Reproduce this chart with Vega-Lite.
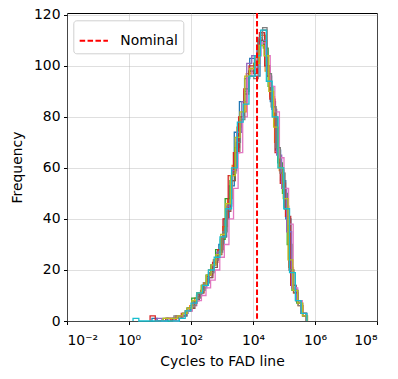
{
"$schema":"https://vega.github.io/schema/vega-lite/v6.json",
"width":310,"height":308,
"autosize":{"type":"none"},
"padding":{"left":67,"top":13,"right":21,"bottom":58},
"config":{
"font":"DejaVu Sans",
"view":{"stroke":"black","strokeWidth":1},
"axis":{"labelFont":"DejaVu Sans","labelFontSize":13.9,"titleFont":"DejaVu Sans","titleFontSize":13.9,"titleFontWeight":"normal","labelColor":"black","titleColor":"black","tickColor":"black","tickSize":3.5,"tickWidth":1,"domain":false,"gridColor":"#b0b0b0","gridOpacity":0.5,"gridWidth":0.8}
},
"layer":[
{"data":{"values":[
{"s":"r01","k":-1,"x":0.74,"c":0},{"s":"r01","k":0,"x":0.74,"c":1},{"s":"r01","k":1,"x":0.906,"c":0},{"s":"r01","k":2,"x":1.072,"c":0},{"s":"r01","k":3,"x":1.238,"c":1},{"s":"r01","k":4,"x":1.404,"c":1},{"s":"r01","k":5,"x":1.57,"c":2},{"s":"r01","k":6,"x":1.736,"c":3},{"s":"r01","k":7,"x":1.902,"c":5},{"s":"r01","k":8,"x":2.068,"c":8},{"s":"r01","k":9,"x":2.234,"c":11},{"s":"r01","k":10,"x":2.4,"c":15},{"s":"r01","k":11,"x":2.566,"c":19},{"s":"r01","k":12,"x":2.732,"c":24},{"s":"r01","k":13,"x":2.898,"c":30},{"s":"r01","k":14,"x":3.064,"c":40},{"s":"r01","k":15,"x":3.23,"c":53},{"s":"r01","k":16,"x":3.396,"c":74},{"s":"r01","k":17,"x":3.562,"c":86},{"s":"r01","k":18,"x":3.728,"c":95},{"s":"r01","k":19,"x":3.894,"c":103},{"s":"r01","k":20,"x":4.06,"c":96},{"s":"r01","k":21,"x":4.226,"c":112},{"s":"r01","k":22,"x":4.392,"c":100},{"s":"r01","k":23,"x":4.558,"c":86},{"s":"r01","k":24,"x":4.724,"c":67},{"s":"r01","k":25,"x":4.89,"c":55},{"s":"r01","k":26,"x":5.056,"c":40},{"s":"r01","k":27,"x":5.222,"c":14},{"s":"r01","k":28,"x":5.388,"c":8},{"s":"r01","k":29,"x":5.554,"c":3},{"s":"r01","k":30,"x":5.72,"c":0},
{"s":"r02","k":-1,"x":1.2,"c":0},{"s":"r02","k":0,"x":1.2,"c":1},{"s":"r02","k":1,"x":1.352,"c":0},{"s":"r02","k":2,"x":1.504,"c":2},{"s":"r02","k":3,"x":1.656,"c":2},{"s":"r02","k":4,"x":1.808,"c":4},{"s":"r02","k":5,"x":1.96,"c":6},{"s":"r02","k":6,"x":2.112,"c":9},{"s":"r02","k":7,"x":2.264,"c":11},{"s":"r02","k":8,"x":2.416,"c":15},{"s":"r02","k":9,"x":2.568,"c":20},{"s":"r02","k":10,"x":2.72,"c":24},{"s":"r02","k":11,"x":2.872,"c":28},{"s":"r02","k":12,"x":3.024,"c":37},{"s":"r02","k":13,"x":3.176,"c":48},{"s":"r02","k":14,"x":3.328,"c":61},{"s":"r02","k":15,"x":3.48,"c":76},{"s":"r02","k":16,"x":3.632,"c":82},{"s":"r02","k":17,"x":3.784,"c":97},{"s":"r02","k":18,"x":3.936,"c":99},{"s":"r02","k":19,"x":4.088,"c":104},{"s":"r02","k":20,"x":4.24,"c":112},{"s":"r02","k":21,"x":4.392,"c":98},{"s":"r02","k":22,"x":4.544,"c":88},{"s":"r02","k":23,"x":4.696,"c":70},{"s":"r02","k":24,"x":4.848,"c":59},{"s":"r02","k":25,"x":5.0,"c":45},{"s":"r02","k":26,"x":5.152,"c":21},{"s":"r02","k":27,"x":5.304,"c":11},{"s":"r02","k":28,"x":5.456,"c":6},{"s":"r02","k":29,"x":5.608,"c":2},{"s":"r02","k":30,"x":5.76,"c":0},
{"s":"r03","k":-1,"x":1.1,"c":0},{"s":"r03","k":0,"x":1.1,"c":1},{"s":"r03","k":1,"x":1.254,"c":0},{"s":"r03","k":2,"x":1.408,"c":1},{"s":"r03","k":3,"x":1.562,"c":2},{"s":"r03","k":4,"x":1.716,"c":2},{"s":"r03","k":5,"x":1.87,"c":5},{"s":"r03","k":6,"x":2.024,"c":9},{"s":"r03","k":7,"x":2.178,"c":10},{"s":"r03","k":8,"x":2.332,"c":14},{"s":"r03","k":9,"x":2.486,"c":18},{"s":"r03","k":10,"x":2.64,"c":22},{"s":"r03","k":11,"x":2.794,"c":28},{"s":"r03","k":12,"x":2.948,"c":32},{"s":"r03","k":13,"x":3.102,"c":48},{"s":"r03","k":14,"x":3.256,"c":55},{"s":"r03","k":15,"x":3.41,"c":68},{"s":"r03","k":16,"x":3.564,"c":80},{"s":"r03","k":17,"x":3.718,"c":90},{"s":"r03","k":18,"x":3.872,"c":98},{"s":"r03","k":19,"x":4.026,"c":101},{"s":"r03","k":20,"x":4.18,"c":110},{"s":"r03","k":21,"x":4.334,"c":107},{"s":"r03","k":22,"x":4.488,"c":92},{"s":"r03","k":23,"x":4.642,"c":80},{"s":"r03","k":24,"x":4.796,"c":62},{"s":"r03","k":25,"x":4.95,"c":50},{"s":"r03","k":26,"x":5.104,"c":30},{"s":"r03","k":27,"x":5.258,"c":12},{"s":"r03","k":28,"x":5.412,"c":7},{"s":"r03","k":29,"x":5.566,"c":3},{"s":"r03","k":30,"x":5.72,"c":0},
{"s":"r04","k":-1,"x":0.68,"c":0},{"s":"r04","k":0,"x":0.68,"c":2},{"s":"r04","k":1,"x":0.848,"c":0},{"s":"r04","k":2,"x":1.016,"c":0},{"s":"r04","k":3,"x":1.184,"c":1},{"s":"r04","k":4,"x":1.352,"c":0},{"s":"r04","k":5,"x":1.52,"c":1},{"s":"r04","k":6,"x":1.688,"c":3},{"s":"r04","k":7,"x":1.856,"c":4},{"s":"r04","k":8,"x":2.024,"c":7},{"s":"r04","k":9,"x":2.192,"c":11},{"s":"r04","k":10,"x":2.36,"c":14},{"s":"r04","k":11,"x":2.528,"c":18},{"s":"r04","k":12,"x":2.696,"c":23},{"s":"r04","k":13,"x":2.864,"c":28},{"s":"r04","k":14,"x":3.032,"c":40},{"s":"r04","k":15,"x":3.2,"c":57},{"s":"r04","k":16,"x":3.368,"c":66},{"s":"r04","k":17,"x":3.536,"c":80},{"s":"r04","k":18,"x":3.704,"c":91},{"s":"r04","k":19,"x":3.872,"c":100},{"s":"r04","k":20,"x":4.04,"c":101},{"s":"r04","k":21,"x":4.208,"c":113},{"s":"r04","k":22,"x":4.376,"c":100},{"s":"r04","k":23,"x":4.544,"c":87},{"s":"r04","k":24,"x":4.712,"c":66},{"s":"r04","k":25,"x":4.88,"c":54},{"s":"r04","k":26,"x":5.048,"c":41},{"s":"r04","k":27,"x":5.216,"c":14},{"s":"r04","k":28,"x":5.384,"c":8},{"s":"r04","k":29,"x":5.552,"c":3},{"s":"r04","k":30,"x":5.72,"c":0},
{"s":"r05","k":-1,"x":0.9,"c":0},{"s":"r05","k":0,"x":0.9,"c":1},{"s":"r05","k":1,"x":1.061,"c":0},{"s":"r05","k":2,"x":1.222,"c":1},{"s":"r05","k":3,"x":1.383,"c":1},{"s":"r05","k":4,"x":1.544,"c":2},{"s":"r05","k":5,"x":1.705,"c":2},{"s":"r05","k":6,"x":1.866,"c":4},{"s":"r05","k":7,"x":2.027,"c":7},{"s":"r05","k":8,"x":2.188,"c":10},{"s":"r05","k":9,"x":2.349,"c":13},{"s":"r05","k":10,"x":2.51,"c":17},{"s":"r05","k":11,"x":2.671,"c":22},{"s":"r05","k":12,"x":2.832,"c":27},{"s":"r05","k":13,"x":2.993,"c":33},{"s":"r05","k":14,"x":3.154,"c":45},{"s":"r05","k":15,"x":3.315,"c":59},{"s":"r05","k":16,"x":3.476,"c":74},{"s":"r05","k":17,"x":3.637,"c":86},{"s":"r05","k":18,"x":3.798,"c":101},{"s":"r05","k":19,"x":3.959,"c":104},{"s":"r05","k":20,"x":4.12,"c":108},{"s":"r05","k":21,"x":4.281,"c":110},{"s":"r05","k":22,"x":4.442,"c":96},{"s":"r05","k":23,"x":4.603,"c":83},{"s":"r05","k":24,"x":4.764,"c":65},{"s":"r05","k":25,"x":4.925,"c":52},{"s":"r05","k":26,"x":5.086,"c":35},{"s":"r05","k":27,"x":5.247,"c":13},{"s":"r05","k":28,"x":5.408,"c":8},{"s":"r05","k":29,"x":5.569,"c":3},{"s":"r05","k":30,"x":5.73,"c":0},
{"s":"r06","k":-1,"x":1.4,"c":0},{"s":"r06","k":0,"x":1.4,"c":1},{"s":"r06","k":1,"x":1.545,"c":1},{"s":"r06","k":2,"x":1.69,"c":2},{"s":"r06","k":3,"x":1.835,"c":4},{"s":"r06","k":4,"x":1.98,"c":5},{"s":"r06","k":5,"x":2.125,"c":8},{"s":"r06","k":6,"x":2.27,"c":11},{"s":"r06","k":7,"x":2.415,"c":14},{"s":"r06","k":8,"x":2.56,"c":17},{"s":"r06","k":9,"x":2.705,"c":21},{"s":"r06","k":10,"x":2.85,"c":26},{"s":"r06","k":11,"x":2.995,"c":33},{"s":"r06","k":12,"x":3.14,"c":43},{"s":"r06","k":13,"x":3.285,"c":55},{"s":"r06","k":14,"x":3.43,"c":66},{"s":"r06","k":15,"x":3.575,"c":80},{"s":"r06","k":16,"x":3.72,"c":89},{"s":"r06","k":17,"x":3.865,"c":98},{"s":"r06","k":18,"x":4.01,"c":97},{"s":"r06","k":19,"x":4.155,"c":110},{"s":"r06","k":20,"x":4.3,"c":114},{"s":"r06","k":21,"x":4.445,"c":96},{"s":"r06","k":22,"x":4.59,"c":84},{"s":"r06","k":23,"x":4.735,"c":68},{"s":"r06","k":24,"x":4.88,"c":58},{"s":"r06","k":25,"x":5.025,"c":44},{"s":"r06","k":26,"x":5.17,"c":20},{"s":"r06","k":27,"x":5.315,"c":11},{"s":"r06","k":28,"x":5.46,"c":7},{"s":"r06","k":29,"x":5.605,"c":2},{"s":"r06","k":30,"x":5.75,"c":0},
{"s":"r07","k":-1,"x":1.3,"c":0},{"s":"r07","k":0,"x":1.3,"c":1},{"s":"r07","k":1,"x":1.448,"c":0},{"s":"r07","k":2,"x":1.596,"c":1},{"s":"r07","k":3,"x":1.744,"c":3},{"s":"r07","k":4,"x":1.892,"c":4},{"s":"r07","k":5,"x":2.04,"c":6},{"s":"r07","k":6,"x":2.188,"c":8},{"s":"r07","k":7,"x":2.336,"c":10},{"s":"r07","k":8,"x":2.484,"c":13},{"s":"r07","k":9,"x":2.632,"c":16},{"s":"r07","k":10,"x":2.78,"c":20},{"s":"r07","k":11,"x":2.928,"c":25},{"s":"r07","k":12,"x":3.076,"c":30},{"s":"r07","k":13,"x":3.224,"c":40},{"s":"r07","k":14,"x":3.372,"c":52},{"s":"r07","k":15,"x":3.52,"c":66},{"s":"r07","k":16,"x":3.668,"c":80},{"s":"r07","k":17,"x":3.816,"c":96},{"s":"r07","k":18,"x":3.964,"c":99},{"s":"r07","k":19,"x":4.112,"c":104},{"s":"r07","k":20,"x":4.26,"c":109},{"s":"r07","k":21,"x":4.408,"c":104},{"s":"r07","k":22,"x":4.556,"c":92},{"s":"r07","k":23,"x":4.704,"c":82},{"s":"r07","k":24,"x":4.852,"c":64},{"s":"r07","k":25,"x":5.0,"c":52},{"s":"r07","k":26,"x":5.148,"c":38},{"s":"r07","k":27,"x":5.296,"c":13},{"s":"r07","k":28,"x":5.444,"c":8},{"s":"r07","k":29,"x":5.592,"c":3},{"s":"r07","k":30,"x":5.74,"c":0},
{"s":"r08","k":-1,"x":1.45,"c":0},{"s":"r08","k":0,"x":1.45,"c":2},{"s":"r08","k":1,"x":1.593,"c":1},{"s":"r08","k":2,"x":1.736,"c":3},{"s":"r08","k":3,"x":1.879,"c":5},{"s":"r08","k":4,"x":2.022,"c":6},{"s":"r08","k":5,"x":2.165,"c":9},{"s":"r08","k":6,"x":2.308,"c":12},{"s":"r08","k":7,"x":2.451,"c":15},{"s":"r08","k":8,"x":2.594,"c":19},{"s":"r08","k":9,"x":2.737,"c":24},{"s":"r08","k":10,"x":2.88,"c":27},{"s":"r08","k":11,"x":3.023,"c":35},{"s":"r08","k":12,"x":3.166,"c":46},{"s":"r08","k":13,"x":3.309,"c":58},{"s":"r08","k":14,"x":3.452,"c":70},{"s":"r08","k":15,"x":3.595,"c":79},{"s":"r08","k":16,"x":3.738,"c":91},{"s":"r08","k":17,"x":3.881,"c":96},{"s":"r08","k":18,"x":4.024,"c":95},{"s":"r08","k":19,"x":4.167,"c":111},{"s":"r08","k":20,"x":4.31,"c":115},{"s":"r08","k":21,"x":4.453,"c":97},{"s":"r08","k":22,"x":4.596,"c":84},{"s":"r08","k":23,"x":4.739,"c":68},{"s":"r08","k":24,"x":4.882,"c":58},{"s":"r08","k":25,"x":5.025,"c":44},{"s":"r08","k":26,"x":5.168,"c":20},{"s":"r08","k":27,"x":5.311,"c":12},{"s":"r08","k":28,"x":5.454,"c":6},{"s":"r08","k":29,"x":5.597,"c":2},{"s":"r08","k":30,"x":5.74,"c":0},
{"s":"r09","k":-1,"x":1.1,"c":0},{"s":"r09","k":0,"x":1.1,"c":1},{"s":"r09","k":1,"x":1.255,"c":1},{"s":"r09","k":2,"x":1.41,"c":1},{"s":"r09","k":3,"x":1.565,"c":2},{"s":"r09","k":4,"x":1.72,"c":3},{"s":"r09","k":5,"x":1.875,"c":5},{"s":"r09","k":6,"x":2.03,"c":8},{"s":"r09","k":7,"x":2.185,"c":11},{"s":"r09","k":8,"x":2.34,"c":14},{"s":"r09","k":9,"x":2.495,"c":18},{"s":"r09","k":10,"x":2.65,"c":22},{"s":"r09","k":11,"x":2.805,"c":26},{"s":"r09","k":12,"x":2.96,"c":34},{"s":"r09","k":13,"x":3.115,"c":46},{"s":"r09","k":14,"x":3.27,"c":57},{"s":"r09","k":15,"x":3.425,"c":72},{"s":"r09","k":16,"x":3.58,"c":82},{"s":"r09","k":17,"x":3.735,"c":96},{"s":"r09","k":18,"x":3.89,"c":99},{"s":"r09","k":19,"x":4.045,"c":101},{"s":"r09","k":20,"x":4.2,"c":108},{"s":"r09","k":21,"x":4.355,"c":104},{"s":"r09","k":22,"x":4.51,"c":90},{"s":"r09","k":23,"x":4.665,"c":76},{"s":"r09","k":24,"x":4.82,"c":60},{"s":"r09","k":25,"x":4.975,"c":48},{"s":"r09","k":26,"x":5.13,"c":24},{"s":"r09","k":27,"x":5.285,"c":12},{"s":"r09","k":28,"x":5.44,"c":7},{"s":"r09","k":29,"x":5.595,"c":2},{"s":"r09","k":30,"x":5.75,"c":0},
{"s":"r10","k":-1,"x":0.13,"c":0},{"s":"r10","k":0,"x":0.13,"c":1},{"s":"r10","k":1,"x":0.317,"c":0},{"s":"r10","k":2,"x":0.504,"c":0},{"s":"r10","k":3,"x":0.691,"c":0},{"s":"r10","k":4,"x":0.878,"c":0},{"s":"r10","k":5,"x":1.065,"c":0},{"s":"r10","k":6,"x":1.252,"c":0},{"s":"r10","k":7,"x":1.439,"c":0},{"s":"r10","k":8,"x":1.626,"c":1},{"s":"r10","k":9,"x":1.813,"c":4},{"s":"r10","k":10,"x":2.0,"c":7},{"s":"r10","k":11,"x":2.187,"c":11},{"s":"r10","k":12,"x":2.374,"c":14},{"s":"r10","k":13,"x":2.561,"c":20},{"s":"r10","k":14,"x":2.748,"c":25},{"s":"r10","k":15,"x":2.935,"c":33},{"s":"r10","k":16,"x":3.122,"c":44},{"s":"r10","k":17,"x":3.309,"c":60},{"s":"r10","k":18,"x":3.496,"c":78},{"s":"r10","k":19,"x":3.683,"c":85},{"s":"r10","k":20,"x":3.87,"c":96},{"s":"r10","k":21,"x":4.057,"c":104},{"s":"r10","k":22,"x":4.244,"c":114},{"s":"r10","k":23,"x":4.431,"c":94},{"s":"r10","k":24,"x":4.618,"c":80},{"s":"r10","k":25,"x":4.805,"c":60},{"s":"r10","k":26,"x":4.992,"c":44},{"s":"r10","k":27,"x":5.179,"c":19},{"s":"r10","k":28,"x":5.366,"c":8},{"s":"r10","k":29,"x":5.553,"c":3},{"s":"r10","k":30,"x":5.74,"c":0}
]},
"mark":{"type":"line","interpolate":"step-after","strokeWidth":1.3},
"encoding":{
"x":{"field":"x","type":"quantitative","scale":{"domain":[-2,8],"nice":false,"zero":false},
"axis":{"values":[-2,0,2,4,6,8],"title":"Cycles to FAD line","grid":true,"labelPadding":9,"titlePadding":7,
"labelExpr":"datum.value < -1 ? '10⁻²' : datum.value == 0 ? '10⁰' : datum.value == 2 ? '10²' : datum.value == 4 ? '10⁴' : datum.value == 6 ? '10⁶' : '10⁸'"}},
"y":{"field":"c","type":"quantitative","scale":{"domain":[0,120.75],"nice":false},
"axis":{"values":[0,20,40,60,80,100,120],"title":"Frequency","grid":true,"labelPadding":3.5,"titlePadding":9}},
"stroke":{"field":"s","type":"nominal","scale":{"domain":["r01","r02","r03","r04","r05","r06","r07","r08","r09","r10"],"range":["#1f77b4","#ff7f0e","#2ca02c","#d62728","#9467bd","#8c564b","#e377c2","#7f7f7f","#bcbd22","#17becf"]},"legend":null},
"order":{"field":"k","type":"quantitative"}
}},
{"data":{"values":[{"label":"Nominal","x":4.13}]},
"mark":{"type":"rule","strokeWidth":2,"strokeDash":[5.5,2.4]},
"encoding":{
"x":{"field":"x","type":"quantitative"},
"color":{"field":"label","type":"nominal","scale":{"domain":["Nominal"],"range":["#ff0000"]},
"legend":{"title":null,"orient":"none","legendX":6.3,"legendY":7.3,"symbolType":"stroke","symbolSize":800,"symbolStrokeWidth":2,"symbolDash":[5.5,2.4],"labelFontSize":13.9,"labelFont":"DejaVu Sans","labelColor":"black","padding":5,"fillColor":"white","strokeColor":"#d0d0d0","cornerRadius":3,"labelOffset":11}}
}}
]
}
